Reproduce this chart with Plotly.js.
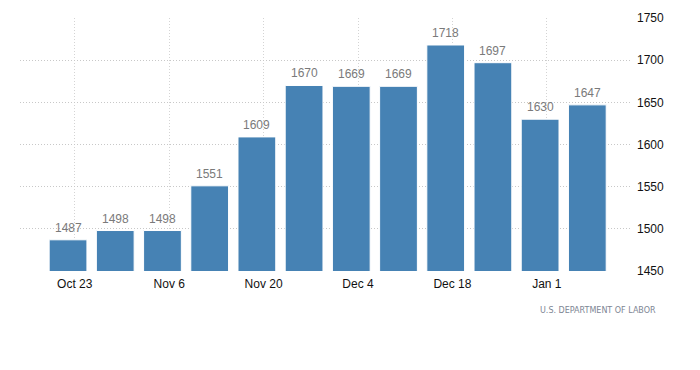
<!DOCTYPE html>
<html>
<head>
<meta charset="utf-8">
<script src="https://cdn.plot.ly/plotly-3.0.1.min.js"></script>
<style>
html,body{margin:0;padding:0;background:#fff;}
#chart{width:700px;height:370px;}
</style>
</head>
<body>
<div id="chart"></div>
<script>
// Weekly values (week ending dates)
var weeks = ['2016-10-22','2016-10-29','2016-11-05','2016-11-12','2016-11-19','2016-11-26',
             '2016-12-03','2016-12-10','2016-12-17','2016-12-24','2016-12-31','2017-01-07'];
var values = [1487, 1498, 1498, 1551, 1609, 1670, 1669, 1669, 1718, 1697, 1630, 1647];
var tickDates = ['2016-10-23','2016-11-06','2016-11-20','2016-12-04','2016-12-18','2017-01-01'];
var tickLabels = ['Oct 23','Nov 6','Nov 20','Dec 4','Dec 18','Jan 1'];
var yTicks = [1450, 1500, 1550, 1600, 1650, 1700, 1750];
var sourceText = 'U.S. DEPARTMENT OF LABOR';

var DAY = 86400000;
var FONT = 'Liberation Sans, Arial, sans-serif';

var trace = {
  type: 'bar',
  x: weeks,
  y: values,
  width: weeks.map(function(){ return 5.6 * DAY; }),
  marker: {color: '#4682b4', line: {color: '#ffffff', width: 1}},
  hoverinfo: 'none'
};

var valueLabels = weeks.map(function(d, i){
  return {
    x: d, y: values[i], xref: 'x', yref: 'y',
    text: String(values[i]),
    showarrow: false,
    xanchor: 'center', yanchor: 'bottom',
    yshift: 3,
    font: {family: FONT, size: 12, color: '#7a7a7a'}
  };
});

var layout = {
  width: 700,
  height: 370,
  margin: {l: 20, r: 68, t: 18, b: 99},
  paper_bgcolor: '#ffffff',
  plot_bgcolor: '#ffffff',
  showlegend: false,
  bargap: 0,
  font: {family: FONT, size: 12, color: '#000'},
  xaxis: {
    type: 'date',
    range: ['2016-10-14 21:00', '2017-01-13 15:00'],
    tickvals: tickDates,
    ticktext: tickLabels,
    showgrid: true,
    gridcolor: '#d4d4d4',
    griddash: '1px,2px',
    gridwidth: 1,
    zeroline: false,
    showline: false,
    ticks: '',
    ticklabelstandoff: 4,
    tickfont: {size: 12, color: '#111'},
    fixedrange: true
  },
  yaxis: {
    side: 'right',
    range: [1450, 1750],
    tickvals: yTicks,
    showgrid: true,
    gridcolor: '#c8c8c8',
    griddash: '1px,2px',
    gridwidth: 1,
    zeroline: false,
    showline: false,
    ticks: '',
    ticklabelstandoff: 4,
    tickfont: {size: 12, color: '#111'},
    fixedrange: true
  },
  annotations: valueLabels.concat([{
    text: sourceText,
    xref: 'paper', yref: 'paper',
    x: 1.042, y: -0.158,
    xanchor: 'right', yanchor: 'middle',
    showarrow: false,
    font: {family: 'DejaVu Sans, sans-serif', size: 8, color: '#7d8694'}
  }])
};

Plotly.newPlot('chart', [trace], layout, {displayModeBar: false, staticPlot: true});
</script>
</body>
</html>
